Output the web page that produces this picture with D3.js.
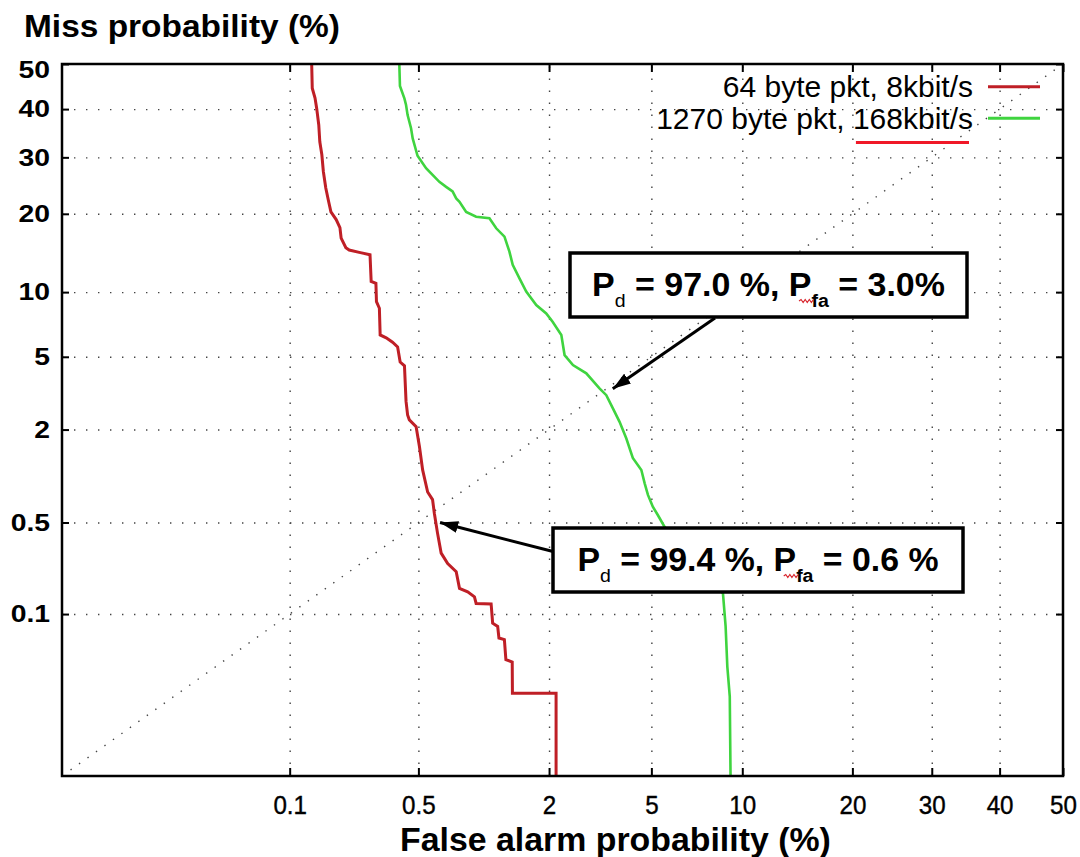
<!DOCTYPE html>
<html><head><meta charset="utf-8">
<script src="https://cdn.jsdelivr.net/npm/d3@7"></script>
<style>body{margin:0;background:#fff}svg{display:block}</style>
</head><body>
<svg id="c" width="1080" height="857"></svg>
<script>
// ---------- data ----------
const xTicks = [0.1, 0.5, 2, 5, 10, 20, 30, 40, 50];
const yTicks = [50, 40, 30, 20, 10, 5, 2, 0.5, 0.1];
const seriesNames = ["64 byte pkt, 8kbit/s", "1270 byte pkt, 168kbit/s"];
const seriesColors = ["#bf1f26", "#3fd43f"];
const xTitle = "False alarm probability (%)";
const yTitle = "Miss probability (%)";

const redFA = [0.134,0.135,0.140,0.143,0.147,0.149,0.153,0.156,0.161,0.167,0.172,0.184,0.193,0.196,0.208,0.217,0.246,0.281,0.285,0.302,0.304,0.315,0.318,0.342,0.369,0.392,0.404,0.425,0.433,0.441,0.450,0.487,0.506,0.525,0.556,0.588,0.600,0.622,0.648,0.697,0.766,0.794,0.868,0.934,0.951,1.115,1.133,1.194,1.21,1.28,1.30,1.387,1.39,2.14,2.14];
const redMiss = [50,44.6,42.4,40.2,36.6,33.1,30.5,27.3,24.3,22.0,20.3,19.1,17.9,16.4,15.1,14.8,14.5,14.2,11.1,10.9,9.1,8.5,6.4,6.2,5.9,5.6,4.7,4.5,2.9,2.43,2.28,2.08,1.58,1.13,0.81,0.72,0.58,0.42,0.30,0.25,0.217,0.161,0.151,0.138,0.122,0.121,0.084,0.079,0.063,0.061,0.041,0.039,0.0204,0.0204,0.0032];

const greenFA = [0.400,0.403,0.425,0.433,0.441,0.459,0.468,0.495,0.546,0.635,0.685,0.736,0.766,0.794,0.854,0.951,1.095,1.176,1.281,1.348,1.394,1.493,1.598,1.765,1.946,2.07,2.25,2.32,2.51,2.84,3.20,3.40,3.60,3.82,4.05,4.28,4.60,4.73,4.86,5.06,5.27,5.57,8.71,8.88,8.99,9.15,9.20];
const greenMiss = [50,45.1,42.3,40.9,38.7,35.9,33.8,30.3,27.9,25.4,24.5,23.7,22.5,21.95,20.3,19.55,19.3,17.8,16.6,14.6,12.95,11.43,10.05,8.79,8.06,7.38,6.40,5.10,4.54,4.11,3.42,3.14,2.66,2.22,1.77,1.345,1.128,0.924,0.774,0.644,0.564,0.465,0.147,0.079,0.0355,0.0190,0.0032];

const diagonal = [0.00317, 50];

const annotPd = ["97.0 %", "99.4 %"];
const annotPfa = ["3.0%", "0.6 %"];
const annotTipFA = [3.6, 0.64];
const annotTipMiss = [3.4, 0.50];

// ---------- helpers ----------
function probit(p){
  const a=[-3.969683028665376e+01,2.209460984245205e+02,-2.759285104469687e+02,1.383577518672690e+02,-3.066479806614716e+01,2.506628277459239e+00];
  const b=[-5.447609879822406e+01,1.615858368580409e+02,-1.556989798598866e+02,6.680131188771972e+01,-1.328068155288572e+01];
  const c=[-7.784894002430293e-03,-3.223964580411365e-01,-2.400758277161838e+00,-2.549732539343734e+00,4.374664141464968e+00,2.938163982698783e+00];
  const d=[7.784695709041462e-03,3.224671290700398e-01,2.445134137142996e+00,3.754408661907416e+00];
  const pl=0.02425;
  if(p<pl){const q=Math.sqrt(-2*Math.log(p));return (((((c[0]*q+c[1])*q+c[2])*q+c[3])*q+c[4])*q+c[5])/((((d[0]*q+d[1])*q+d[2])*q+d[3])*q+1);}
  if(p<=1-pl){const q=p-0.5,r=q*q;return (((((a[0]*r+a[1])*r+a[2])*r+a[3])*r+a[4])*r+a[5])*q/(((((b[0]*r+b[1])*r+b[2])*r+b[3])*r+b[4])*r+1);}
  const q=Math.sqrt(-2*Math.log(1-p));return -(((((c[0]*q+c[1])*q+c[2])*q+c[3])*q+c[4])*q+c[5])/((((d[0]*q+d[1])*q+d[2])*q+d[3])*q+1);
}
function probitScale(range){
  const lin = d3.scaleLinear().domain([-4,0]).range(range);
  const s = v => lin(probit(v/100));
  s.copy = () => probitScale(range);
  s.range = () => lin.range();
  s.domain = () => [0.00317, 50];
  return s;
}

const FONT = "'Liberation Sans', Arial, Helvetica, sans-serif";
const X0=62, X1=1063, Y0=64, Y1=776;
const xs = probitScale([X0, X1]);
const ys = probitScale([Y1, Y0]);
const svg = d3.select("#c");

// ---------- grid ----------
const gridStyle = g => {
  g.select(".domain").remove();
  g.selectAll("line").attr("stroke","#444").attr("stroke-width",1.4).attr("stroke-dasharray","1.4 10.6");
};
svg.append("g").attr("transform",`translate(0,${Y1})`)
  .call(d3.axisBottom(xs).tickValues(xTicks.filter(v=>v<50)).tickSize(-(Y1-Y0)).tickFormat(""))
  .call(gridStyle);
svg.append("g").attr("transform",`translate(${X0},0)`)
  .call(d3.axisLeft(ys).tickValues(yTicks.filter(v=>v<50)).tickSize(-(X1-X0)).tickFormat(""))
  .call(gridStyle);

// diagonal (equal error line)
svg.append("path")
  .attr("d", d3.line().x(d=>xs(d)).y(d=>ys(d))(diagonal))
  .attr("fill","none").attr("stroke","#444").attr("stroke-width",1.4).attr("stroke-dasharray","1.4 9");

// ---------- curves ----------
const line = d3.line().x(d=>xs(d[0])).y(d=>ys(d[1]));
const series = [d3.zip(redFA, redMiss), d3.zip(greenFA, greenMiss)];
series.forEach((s,i)=>{
  svg.append("path").attr("d", line(s)).attr("fill","none")
    .attr("stroke", seriesColors[i]).attr("stroke-width", i===0?3:2.6)
    .attr("stroke-linejoin","miter");
});

// ---------- border, ticks ----------
svg.append("rect").attr("x",X0).attr("y",Y0).attr("width",X1-X0).attr("height",Y1-Y0)
  .attr("fill","none").attr("stroke","#000").attr("stroke-width",2.5);

const tickStyle = g => {
  g.select(".domain").remove();
  g.selectAll("line").attr("stroke","#000").attr("stroke-width",2);
};
const xAx = svg.append("g").attr("transform",`translate(0,${Y1})`)
  .call(d3.axisBottom(xs).tickValues(xTicks).tickSize(-8).tickPadding(20).tickFormat(d=>String(d)))
  .call(tickStyle);
xAx.selectAll(".tick text").attr("font-family",FONT).attr("font-size",26).attr("fill","#000")
  .attr("stroke","#000").attr("stroke-width",0.4).attr("transform","scale(0.93,1)");
svg.append("g").attr("transform",`translate(0,${Y0})`)
  .call(d3.axisTop(xs).tickValues(xTicks).tickSize(-8).tickFormat("")).call(tickStyle);
const yAx = svg.append("g").attr("transform",`translate(${X0},0)`)
  .call(d3.axisLeft(ys).tickValues(yTicks).tickSize(-7).tickPadding(14).tickFormat(d=>String(d)))
  .call(tickStyle);
yAx.selectAll(".tick text").attr("font-family",FONT).attr("font-size",24).attr("font-weight","bold").attr("fill","#000")
  .attr("x",0).attr("transform",d=>`translate(-12,${d===50?6:0}) scale(1.18,1)`);
svg.append("g").attr("transform",`translate(${X1},0)`)
  .call(d3.axisRight(ys).tickValues(yTicks).tickSize(-7).tickFormat("")).call(tickStyle);

// ---------- titles ----------
function fitText(text, target){
  const w = text.node().getBBox().width;
  return target / w;
}
{
  const g = svg.append("g");
  const t = g.append("text").text(yTitle).attr("font-family",FONT).attr("font-weight","bold")
    .attr("font-size",31).attr("fill","#000");
  const s = fitText(t,316);
  g.attr("transform",`translate(24,37) scale(${s},1)`);
}
{
  const g = svg.append("g");
  const t = g.append("text").text(xTitle).attr("font-family",FONT).attr("font-weight","bold")
    .attr("font-size",34).attr("fill","#000");
  const s = fitText(t,431);
  g.attr("transform",`translate(400,851) scale(${s},1)`);
}

// ---------- legend ----------
const legBase = [97, 128.5];
const legLineY = [86.7, 118.3];
seriesNames.forEach((name,i)=>{
  const g = svg.append("g").attr("transform",`translate(973,${legBase[i]})`);
  const t = g.append("text").text(name).attr("font-family",FONT).attr("font-size",30)
    .attr("text-anchor","end").attr("fill","#000");
  svg.append("line").attr("x1",988).attr("x2",1040).attr("y1",legLineY[i]).attr("y2",legLineY[i])
    .attr("stroke",seriesColors[i]).attr("stroke-width",3);
  if(i===1){
    const start = name.indexOf("168");
    const e0 = t.node().getExtentOfChar(start), e1 = t.node().getExtentOfChar(name.length-1);
    g.append("line").attr("x1",e0.x+3).attr("x2",e1.x+e1.width-4).attr("y1",14).attr("y2",14)
      .attr("stroke","#f01828").attr("stroke-width",3);
  }
});

// ---------- annotations ----------
const boxes = [{x:570,y:253,w:397,h:64,tw:353,from:[715,318]},
               {x:553,y:528,w:410,h:64,tw:361,from:[555,552]}];
svg.append("defs").append("marker").attr("id","ah").attr("viewBox","0 0 18 12")
  .attr("refX",18).attr("refY",6).attr("markerWidth",18).attr("markerHeight",12)
  .attr("markerUnits","userSpaceOnUse").attr("orient","auto")
  .append("path").attr("d","M0,0 L18,6 L0,12 Z").attr("fill","#000");

boxes.forEach((b,i)=>{
  svg.append("line").attr("x1",b.from[0]).attr("y1",b.from[1])
    .attr("x2",xs(annotTipFA[i])).attr("y2",ys(annotTipMiss[i]))
    .attr("stroke","#000").attr("stroke-width",3).attr("marker-end","url(#ah)");
  svg.append("rect").attr("x",b.x).attr("y",b.y).attr("width",b.w).attr("height",b.h)
    .attr("fill","#fff").attr("stroke","#000").attr("stroke-width",3.5);
  const g = svg.append("g");
  const t = g.append("text").attr("font-family",FONT).attr("font-weight","bold").attr("font-size",33)
    .attr("text-anchor","middle").attr("fill","#000");
  const mid = " = " + annotPd[i] + ", ";
  t.append("tspan").text("P");
  t.append("tspan").text("d").attr("font-size",19).attr("font-weight","normal").attr("dy",11);
  t.append("tspan").text(mid).attr("dy",-11);
  t.append("tspan").text("P");
  t.append("tspan").text("fa").attr("font-size",19).attr("dy",11);
  t.append("tspan").text(" = " + annotPfa[i]).attr("dy",-11);
  const s = fitText(t,b.tw);
  g.attr("transform",`translate(${b.x+b.w/2},${b.y+43}) scale(${s},1)`);
  // spell-check squiggle under the second "P"
  const idx = 1 + 1 + mid.length;
  const e = t.node().getExtentOfChar(idx);
  const sx0 = e.x + e.width*0.45, sx1 = e.x + e.width + 3, sy = 5;
  let dstr = `M${sx0},${sy}`;
  let up = true;
  for(let x=sx0+2; x<=sx1; x+=2){ dstr += ` L${x},${sy+(up?-1.5:1.5)}`; up=!up; }
  g.append("path").attr("d",dstr).attr("fill","none").attr("stroke","#d8222a").attr("stroke-width",1.1);
});
</script>
</body></html>
